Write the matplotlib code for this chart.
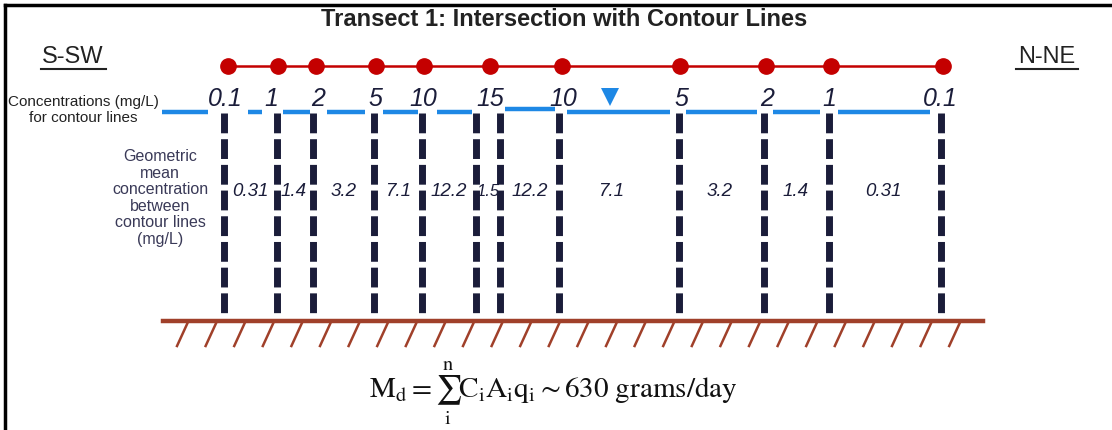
import numpy as np
import matplotlib
matplotlib.use("Agg")
import matplotlib.pyplot as plt

# contour crossings along the transect (position in px)
contour_x = [224, 277, 313, 374, 422, 476, 500, 559, 679, 764, 829, 941]
# contour labels (the 15 label sits between the two 15 crossings)
contour_labels = ["0.1", "1", "2", "5", "10", "15", "10", "5", "2", "1", "0.1"]
label_x = [225, 271, 318, 375, 423, 490, 563, 681, 767, 829, 940]

# sampling points (red dots)
point_x = [228, 278, 316, 376, 424, 490, 562, 680, 766, 831, 943]

# geometric mean concentration between contour lines
mean_x = [250, 294, 344, 398, 449, 488, 530, 611, 720, 796, 883]
mean_vals = ["0.31", "1.4", "3.2", "7.1", "12.2", "1.5", "12.2", "7.1", "3.2", "1.4", "0.31"]

# blue contour line segments (start, end)
seg_start = [162, 248, 283, 327, 383, 437, 505, 567, 686, 773, 838]
seg_end = [208, 262, 310, 365, 418, 472, 555, 670, 757, 820, 930]

plt.rcParams['font.family'] = ['Liberation Sans', 'DejaVu Sans']
plt.rcParams['mathtext.fontset'] = 'stix'

fig = plt.figure(figsize=(11.12, 4.30), dpi=100)
ax = fig.add_axes([0, 0, 1, 1])
ax.set_xlim(0, 1112)
ax.set_ylim(430, 0)
ax.axis('off')

navy = '#1b1d3a'
blue = '#1e88e5'
red = '#c40000'
brown = '#a0402a'

# frame (top and left only)
ax.plot([5, 1112], [5, 5], color='black', lw=2.5)
ax.plot([5, 5], [5, 430], color='black', lw=2.5)

# title and direction labels
ax.text(564, 20, "Transect 1: Intersection with Contour Lines", ha='center', va='center',
        fontsize=17, fontweight='bold', color='#222222')
ax.text(73, 57, "S-SW", ha='center', va='center', fontsize=17, color='#222222')
ax.plot([41, 106], [69, 69], color='#222222', lw=1.5)
ax.text(1047, 57, "N-NE", ha='center', va='center', fontsize=17, color='#222222')
ax.plot([1016, 1078], [69, 69], color='#222222', lw=1.5)

# red sampling line
ax.plot(point_x, [66] * len(point_x), color=red, lw=1.8, marker='o', markersize=11,
        markerfacecolor=red, markeredgecolor=red)

# contour label row
ax.text(83, 110, "Concentrations (mg/L)\nfor contour lines", ha='center', va='center',
        fontsize=11, color='#222222', linespacing=1.1)
for x, lab in zip(label_x, contour_labels):
    ax.text(x, 99, lab, ha='center', va='center', fontsize=18, style='italic', color=navy)

for s, e in zip(seg_start, seg_end):
    y = 109 if s == 505 else 112
    ax.plot([s, e], [y, y], color=blue, lw=3.2, solid_capstyle='butt')

# water table marker
ax.plot([610], [97], marker='v', markersize=13, color=blue, markeredgewidth=0)

# dashed contour lines down to ground
for x in contour_x:
    ax.plot([x, x], [113, 316], color=navy, lw=5, linestyle=(0, (2.85, 0.85)), solid_capstyle='butt')

# geometric mean labels
ax.text(160, 198, "Geometric\nmean\nconcentration\nbetween\ncontour lines\n(mg/L)", ha='center',
        va='center', fontsize=11.5, color='#3a3a58', linespacing=1.12)
for x, v in zip(mean_x, mean_vals):
    fs = 12 if v == "1.5" else 13.5
    ax.text(x, 191, v, ha='center', va='center', fontsize=fs, style='italic', color=navy)

# ground surface with hatching
ax.plot([163, 983], [321, 321], color=brown, lw=3.2)
for hx in np.arange(188, 985, 28.6):
    ax.plot([hx, hx - 11], [322, 346], color=brown, lw=1.8)

# mass discharge formula
ax.text(553, 393, r"$\mathrm{M_d} = \sum_{\mathrm{i}}^{\mathrm{n}}\mathrm{C_iA_iq_i} \sim \mathrm{630\ grams/day}$",
        ha='center', va='center', fontsize=21, color='#111111')

fig.savefig("out.png", dpi=100)
